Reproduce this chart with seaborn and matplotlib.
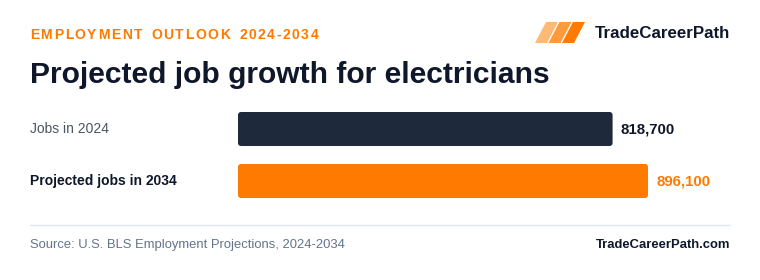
import matplotlib
matplotlib.use("Agg")
import matplotlib.pyplot as plt
import matplotlib.transforms as mtransforms
from matplotlib.patches import FancyBboxPatch, Polygon
from matplotlib.lines import Line2D
from matplotlib.font_manager import FontProperties
from matplotlib.textpath import TextPath
import seaborn as sns
import pandas as pd

# ---- data ----
categories = ["Jobs in 2024", "Projected jobs in 2034"]
jobs = [818700, 896100]
value_labels = ["818,700", "896,100"]
kicker = "EMPLOYMENT OUTLOOK 2024-2034"
title = "Projected job growth for electricians"
brand = "TradeCareerPath"
source = "Source: U.S. BLS Employment Projections, 2024-2034"
site = "TradeCareerPath.com"

# ---- style ----
NAVY = "#1E293B"
DARK = "#0F172A"
ORANGE = "#FF7A00"
GRAY = "#4B5563"
SLATE = "#64748B"
W, H = 760, 280

sns.set_theme(style="white")
plt.rcParams['font.family'] = ['Liberation Sans', 'DejaVu Sans']

fig = plt.figure(figsize=(W / 100, H / 100), dpi=100)
fig.patch.set_facecolor("white")


def fx(px):
    return px / W


def fy(py):
    return 1 - py / H


# ---- bars ----
ax_left, ax_right, ax_top, ax_bot = 238, 730, 103, 207
ax = fig.add_axes([fx(ax_left), fy(ax_bot), (ax_right - ax_left) / W, (ax_bot - ax_top) / H])
df = pd.DataFrame({"category": categories, "jobs": jobs})
sns.barplot(data=df, y="category", x="jobs", hue="category",
            palette=[NAVY, ORANGE], width=0.654, saturation=1,
            legend=False, ax=ax)
xmax = 1075320
ax.set_xlim(0, xmax)
ax.set_ylim(1.5, -0.5)
ax.axis("off")

xu_per_px = xmax / (ax_right - ax_left)
yu_per_px = 2.0 / (ax_bot - ax_top)
for p in list(ax.patches):
    x0, y0 = p.get_x(), p.get_y()
    w, h = p.get_width(), p.get_height()
    fc = p.get_facecolor()
    p.remove()
    rb = FancyBboxPatch((x0, y0), w, h,
                        boxstyle=f"round,pad=0,rounding_size={3 * xu_per_px}",
                        mutation_aspect=yu_per_px / xu_per_px,
                        facecolor=fc, edgecolor="none")
    ax.add_patch(rb)

# value labels
val_colors = [DARK, ORANGE]
for i, (v, lab) in enumerate(zip(jobs, value_labels)):
    ax.annotate(lab, xy=(v, i), xytext=(5.8, 0), textcoords="offset points",
                ha="left", va="center", fontsize=10.8, fontweight="bold",
                color=val_colors[i], annotation_clip=False)

# category labels
blend = mtransforms.blended_transform_factory(fig.transFigure, ax.transData)
cat_styles = [dict(color=GRAY, fontweight="normal"), dict(color=DARK, fontweight="bold")]
for i, c in enumerate(categories):
    fig.text(fx(30), i, c, transform=blend, ha="left", va="center",
             fontsize=10, **cat_styles[i])

# ---- header (letter-spaced kicker, real text per character) ----
kfs = 10
kfs_px = kfs * 100 / 72.0
kprop = FontProperties(family="Liberation Sans", weight="bold")
spacing = 1.6
m_w = TextPath((0, 0), "M", size=kfs_px, prop=kprop).get_extents().width
space_adv = TextPath((0, 0), "M M", size=kfs_px, prop=kprop).get_extents().width - 2 * m_w
l_max = TextPath((0, 0), "l", size=kfs_px, prop=kprop).vertices[:, 0].max()
pen = 30.0
for ch in kicker:
    if ch == " ":
        pen += space_adv + spacing
        continue
    gv = TextPath((0, 0), ch, size=kfs_px, prop=kprop).vertices[:, 0]
    ink_c = (gv.min() + gv.max()) / 2.0
    adv = TextPath((0, 0), ch + "l", size=kfs_px, prop=kprop).vertices[:, 0].max() - l_max
    fig.text(fx(pen + ink_c), fy(39), ch, ha="center", va="baseline",
             fontsize=kfs, fontweight="bold", color=ORANGE)
    pen += adv + spacing

fig.text(fx(30), fy(83), title, ha="left", va="baseline",
         fontsize=21.6, fontweight="bold", color=DARK)

# logo
logo_cols = ["#FDBA74", "#FF9A3C", ORANGE]
for i, col in enumerate(logo_cols):
    bx = 535 + 13.5 * i
    pts = [(fx(bx), fy(43)), (fx(bx + 12), fy(43)),
           (fx(bx + 23), fy(22)), (fx(bx + 11), fy(22))]
    fig.add_artist(Polygon(pts, closed=True, transform=fig.transFigure,
                           facecolor=col, edgecolor="none"))

fig.text(fx(730), fy(38.5), brand, ha="right", va="baseline",
         fontsize=12.2, fontweight="bold", color=DARK)

# ---- footer ----
fig.add_artist(Line2D([fx(30), fx(730)], [fy(224.5), fy(224.5)],
                      transform=fig.transFigure, color="#E2E8F0", lw=1))
fig.text(fx(30), fy(248), source, ha="left", va="baseline",
         fontsize=9.35, color=SLATE)
fig.text(fx(730), fy(248), site, ha="right", va="baseline",
         fontsize=9.4, fontweight="bold", color=DARK)

fig.savefig("out.png", dpi=100, facecolor="white")
